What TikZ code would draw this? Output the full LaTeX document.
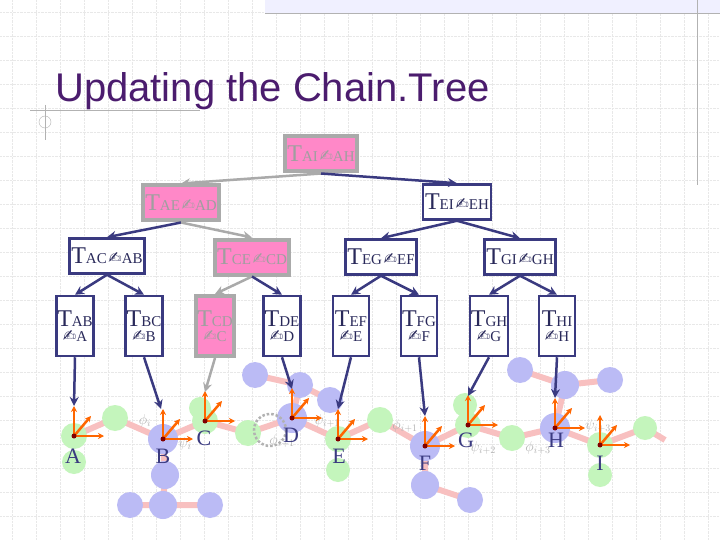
\documentclass[tikz,border=0pt]{standalone}
\usepackage{fontspec}
\setmainfont{Liberation Serif}
\newfontfamily\titlefont{Liberation Sans}
\newfontfamily\djvfont{DejaVu Sans}
\usetikzlibrary{arrows.meta}
\definecolor{navy}{HTML}{3A3A80}
\definecolor{pinkf}{HTML}{FF88C8}
\definecolor{grayb}{HTML}{AAAAAA}
\definecolor{ttl}{HTML}{4B1C6E}
\definecolor{grn}{HTML}{C4F5BC}
\definecolor{blu}{HTML}{BBBBF5}
\definecolor{bnd}{HTML}{F8C0C0}
\definecolor{org}{HTML}{FF6600}
\newcommand{\hnd}{{\djvfont\fontsize{16}{16}\selectfont ✍}}
\newcommand{\tl}[2]{{\fontsize{24}{24}\selectfont T}{\fontsize{15}{15}\selectfont #1}\,\hnd{\fontsize{15}{15}\selectfont #2}}
\newcommand{\lf}[2]{{\fontsize{24}{24}\selectfont T}{\fontsize{15}{15}\selectfont #1}\\[3pt]\hnd{\fontsize{15}{15}\selectfont #2}}
\begin{document}
\begin{tikzpicture}[x=1pt,y=-1pt,
  tbox/.style={draw=navy,line width=2.5pt,fill=white,text=navy!70!black,inner sep=2pt,minimum height=35pt},
  pbox/.style={draw=grayb,line width=4pt,fill=pinkf,text=gray!75,inner sep=2pt,minimum height=35pt},
  lbox/.style={tbox,align=center,minimum width=36pt,minimum height=60pt,inner sep=1pt},
  plbox/.style={pbox,align=center,minimum width=38pt,minimum height=60pt,inner sep=1pt},
  ed/.style={navy,line width=2.5pt,-{Stealth[length=9pt,width=9pt]}},
  ged/.style={grayb,line width=2.5pt,-{Stealth[length=9pt,width=9pt]}},
  atl/.style={text=navy,font=\fontsize{22}{22}\selectfont},
  grk/.style={text=gray!60,font=\fontsize{14}{14}\selectfont},
  gb/.style={fill=grn,draw=none},
  bb/.style={fill=blu,draw=none},
  bond/.style={bnd,line width=6pt},
  ax/.style={org,line width=2.5pt,-{Stealth[length=6pt,width=6pt]}}]
\useasboundingbox (0,0) rectangle (720,540);
\fill[white] (0,0) rectangle (720,540);
% grid
\foreach \x in {12,36,...,720} \draw[gray!18,densely dotted] (\x,0) -- (\x,540);
\foreach \y in {12,36,...,540} \draw[gray!18,densely dotted] (0,\y) -- (720,\y);
% decoration
\fill[blue!6] (265,0) rectangle (720,13);
\draw[gray!60] (265,13) -- (720,13);
\draw[gray!60] (697,0) -- (697,185);
\draw[gray!60] (30,110) -- (200,110);
\draw[gray!60] (45,105) -- (45,140);
\draw[gray!60] (45,122) circle (6);
\node[anchor=base west,text=ttl,font=\titlefont\fontsize{40}{40}\selectfont,inner sep=0] (title) at (55,102) {Updating the Chain.Tree};
% molecule
\draw[bond] (74,436)--(115,418)--(163,439)--(205,421)--(248,433)--(292,418)--(338,439)--(380,420)--(425,446)--(468,425)--(512,438)--(555,428)--(600,445)--(645,428)--(665,440);
\draw[bond] (163,439)--(165,475)--(163,505)--(130,505) (163,505)--(210,505);
\draw[bond] (292,418)--(300,385)--(255,375) (300,385)--(330,400);
\draw[bond] (555,428)--(565,385)--(520,370) (565,385)--(610,380);
\draw[bond] (425,446)--(425,485)--(470,500);
\foreach \p/\r in {{74,462}/12,{74,436}/13,{115,418}/13,{205,421}/13,{200,408}/11,{248,433}/13,{338,439}/13,{338,470}/12,{380,420}/13,{468,425}/13,{465,405}/12,{512,438}/13,{600,445}/13,{600,475}/12,{645,428}/12}
  \fill[gb] (\p) circle (\r);
\foreach \p/\r in {{163,439}/15,{165,475}/14,{163,505}/14,{130,505}/13,{210,505}/13,{292,418}/15,{300,385}/13,{255,375}/13,{330,400}/13,{425,446}/15,{425,485}/14,{470,500}/13,{555,428}/15,{565,385}/14,{520,370}/13,{610,380}/13}
  \fill[bb] (\p) circle (\r);
\draw[gray!60,line width=2.5pt,dotted] (270,430) circle (16);
% greek labels
\node[grk] (g1) at (145,421) {$\phi_{i}$};
\node[grk] (g2) at (185,444) {$\psi_{i}$};
\node[grk] (g3) at (282,441) {$\phi_{i+1}$};
\node[grk] (g4) at (327,421) {$\psi_{i+1}$};
\node[grk] (g5) at (405,426) {$\phi_{i+1}$};
\node[grk] (g6) at (483,448) {$\psi_{i+2}$};
\node[grk] (g7) at (538,448) {$\phi_{i+3}$};
\node[grk] (g8) at (598,426) {$\psi_{i+3}$};
% frames
\foreach \n/\x/\y in {A/74/436,B/163/439,C/205/421,D/292/418,E/338/439,F/425/446,G/468/425,H/555/428,I/600/445}{
  \coordinate (o\n) at (\x,\y);
  \draw[ax] (o\n) -- ++(0,-30);
  \draw[ax] (o\n) -- ++(30,0);
  \draw[ax] (o\n) -- ++(17,-20);
  \fill[red!50!black] (o\n) circle (2.5);
}
\node[atl] (lA) at (73,456) {A};
\node[atl] (lB) at (163,456) {B};
\node[atl] (lC) at (204,438) {C};
\node[atl] (lD) at (291,435) {D};
\node[atl] (lE) at (339,456) {E};
\node[atl] (lF) at (425,463) {F};
\node[atl] (lG) at (466,440) {G};
\node[atl] (lH) at (556,440) {H};
\node[atl] (lI) at (600,463) {I};
% tree
\node[pbox] (AI) at (321,154) {\tl{AI}{AH}};
\node[pbox] (AE) at (181,203) {\tl{AE}{AD}};
\node[tbox] (EI) at (457,202) {\tl{EI}{EH}};
\node[tbox] (AC) at (107,256) {\tl{AC}{AB}};
\node[pbox] (CE) at (252,257) {\tl{CE}{CD}};
\node[tbox] (EG) at (381,257) {\tl{EG}{EF}};
\node[tbox] (GI) at (520,257) {\tl{GI}{GH}};
\node[lbox] (AB) at (75,326) {\lf{AB}{A}};
\node[lbox] (BC) at (144,326) {\lf{BC}{B}};
\node[plbox] (CD) at (215,326) {\lf{CD}{C}};
\node[lbox] (DE) at (282,326) {\lf{DE}{D}};
\node[lbox] (EF) at (351,326) {\lf{EF}{E}};
\node[lbox] (FG) at (419,326) {\lf{FG}{F}};
\node[lbox] (GH) at (489,326) {\lf{GH}{G}};
\node[lbox] (HI) at (557,326) {\lf{HI}{H}};
\draw[ged] (AI.south) -- (AE.north);
\draw[ed] (AI.south) -- (EI.north);
\draw[ed] (AE.south) -- (AC.north);
\draw[ged] (AE.south) -- (CE.north);
\draw[ed] (EI.south) -- (EG.north);
\draw[ed] (EI.south) -- (GI.north);
\draw[ed] (AC.south) -- (AB.north);
\draw[ed] (AC.south) -- (BC.north);
\draw[ged] (CE.south) -- (CD.north);
\draw[ed] (CE.south) -- (DE.north);
\draw[ed] (EG.south) -- (EF.north);
\draw[ed] (EG.south) -- (FG.north);
\draw[ed] (GI.south) -- (GH.north);
\draw[ed] (GI.south) -- (HI.north);
\coordinate (eA) at (74,406); \coordinate (eB) at (161,409);
\coordinate (eC) at (205,392); \coordinate (eD) at (292,389);
\coordinate (eE) at (338,409); \coordinate (eF) at (425,416);
\coordinate (eG) at (468,396); \coordinate (eH) at (555,398);
\draw[ed] (AB.south) -- (eA);
\draw[ed] (BC.south) -- (eB);
\draw[ged] (CD.south) -- (eC);
\draw[ed] (DE.south) -- (eD);
\draw[ed] (EF.south) -- (eE);
\draw[ed] (FG.south) -- (eF);
\draw[ed] (GH.south) -- (eG);
\draw[ed] (HI.south) -- (eH);
\end{tikzpicture}
\end{document}
